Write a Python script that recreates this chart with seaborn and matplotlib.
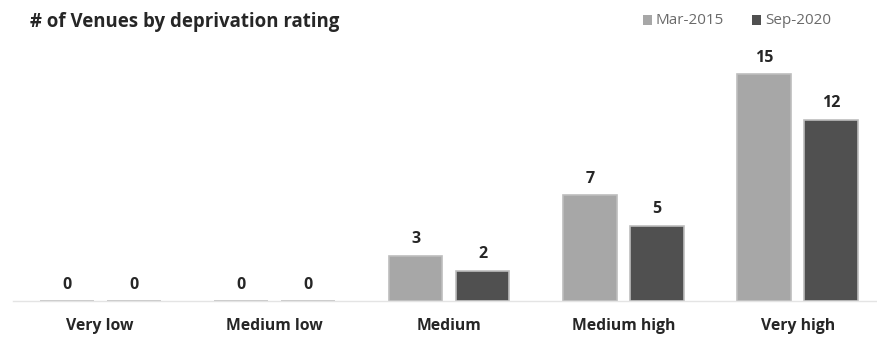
import matplotlib
matplotlib.use("Agg")
import matplotlib.pyplot as plt
import seaborn as sns
import pandas as pd
from matplotlib.patches import Rectangle

# Deprivation rating categories and venue counts per snapshot
categories = ["Very low", "Medium low", "Medium", "Medium high", "Very high"]
series_names = ["Mar-2015", "Sep-2020"]
mar_2015 = [0, 0, 3, 7, 15]
sep_2020 = [0, 0, 2, 5, 12]

df = pd.DataFrame({
    "rating": categories * 2,
    "period": [series_names[0]] * len(categories) + [series_names[1]] * len(categories),
    "venues": mar_2015 + sep_2020,
})

sns.set_theme(style="white")
plt.rcParams["font.family"] = ["Open Sans", "DejaVu Sans"]

W, H = 878, 340
fig = plt.figure(figsize=(W / 100, H / 100), dpi=100)
ax = fig.add_axes([13 / W, (H - 301) / H, (878 - 13) / W, 241.6 / H])

colors = ["#a7a7a7", "#505050"]
sns.barplot(data=df, x="rating", y="venues", hue="period", order=categories,
            hue_order=series_names, palette=colors, width=0.768, dodge=True,
            gap=0.195, edgecolor="#bdbdbd", linewidth=1.2, ax=ax, legend=False)

ax.set_xlim(-0.5, 4.46)
ax.set_ylim(0, 16)

for cont in ax.containers:
    ax.bar_label(cont, fmt="%d", padding=6, fontsize=11.5, fontweight="bold",
                 color="#262626")

for s in ["top", "right", "left"]:
    ax.spines[s].set_visible(False)
ax.spines["bottom"].set_color("#e4e4e4")
ax.spines["bottom"].set_linewidth(1.0)
ax.set_yticks([])
ax.set_xlabel("")
ax.set_ylabel("")
ax.tick_params(axis="x", length=0, pad=12)
for lbl in ax.get_xticklabels():
    lbl.set_fontweight("bold")
    lbl.set_fontsize(11.3)
    lbl.set_color("#262626")

fig.text(30 / W, 1 - 22 / H, "# of Venues by deprivation rating", fontsize=13.4,
         fontweight="bold", color="#262626", ha="left", va="center")

# Legend entries in the top right corner
legend_items = [(643, series_names[0], colors[0]), (752, series_names[1], colors[1])]
for x0, name, c in legend_items:
    fig.patches.append(Rectangle((x0 / W, 1 - 24.5 / H), 9 / W, 9 / H,
                                 transform=fig.transFigure, facecolor=c,
                                 edgecolor="none"))
    fig.text((x0 + 13) / W, 1 - 20 / H, name, fontsize=11, color="#6a6a6a",
             ha="left", va="center")

fig.savefig("out.png", dpi=100)
